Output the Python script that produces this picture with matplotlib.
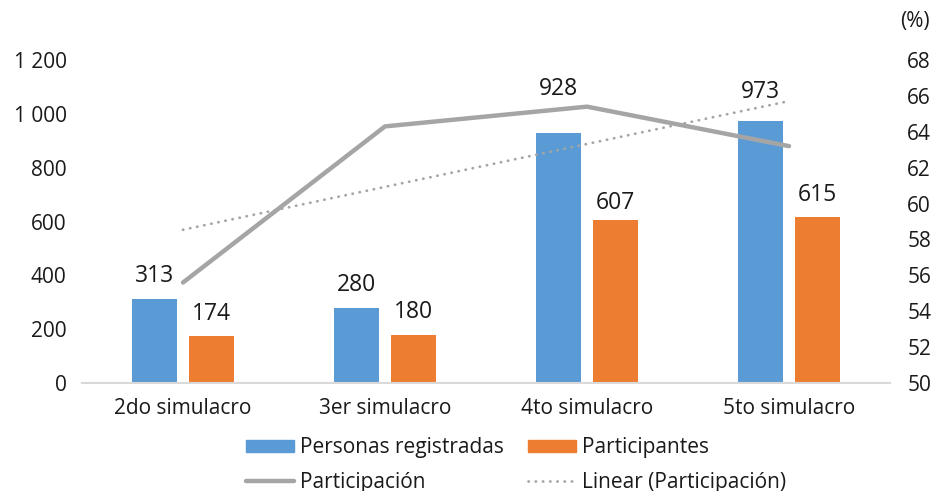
import matplotlib
matplotlib.use("Agg")
import matplotlib.pyplot as plt
import numpy as np
from matplotlib.lines import Line2D
from matplotlib.patches import Patch

plt.rcParams['font.family'] = ['Open Sans', 'DejaVu Sans']

categories = ["2do simulacro", "3er simulacro", "4to simulacro", "5to simulacro"]
registradas = [313, 280, 928, 973]
participantes = [174, 180, 607, 615]
participacion = [55.6, 64.3, 65.4, 63.2]
left_ticks = [0, 200, 400, 600, 800, 1000, 1200]
left_labels = ["0", "200", "400", "600", "800", "1 000", "1 200"]
right_ticks = [50, 52, 54, 56, 58, 60, 62, 64, 66, 68]

# label offsets above bar tops (points) - layout only
reg_label_off = [7.5, 7.5, 23, 12.5]
par_label_off = [7.5, 7.5, 3.5, 7.5]

blue = "#5B9BD5"
orange = "#ED7D31"
gray = "#A5A5A5"
txt = "#1a1a1a"
fs = 15
dotted = (0, (0.1, 2.5))

fig = plt.figure(figsize=(9.42, 4.91), dpi=100)
ax = fig.add_axes([82/942, 1-383/491, 808/942, 323/491])
ax2 = ax.twinx()

x = np.arange(len(categories))
w = 0.223
off = 0.141
ax.bar(x - off, registradas, w, color=blue, zorder=2)
ax.bar(x + off, participantes, w, color=orange, zorder=2)
for xi, v, o in zip(x, registradas, reg_label_off):
    ax.annotate(f"{v}", (xi - off, v), xytext=(0, o), textcoords="offset points",
                ha="center", va="bottom", fontsize=16.5, color=txt)
for xi, v, o in zip(x, participantes, par_label_off):
    ax.annotate(f"{v}", (xi + off, v), xytext=(0, o), textcoords="offset points",
                ha="center", va="bottom", fontsize=16.5, color=txt)

ax.set_xlim(-0.5, 3.5)
ax.set_ylim(0, 1200)
ax.set_yticks(left_ticks)
ax.set_yticklabels(left_labels)
ax.set_xticks(x)
ax.set_xticklabels(categories)
for s in ["top", "right", "left"]:
    ax.spines[s].set_visible(False)
ax.spines["bottom"].set_color("#D9D9D9")
ax.spines["bottom"].set_linewidth(1.5)
ax.tick_params(axis="both", length=0, labelsize=fs, colors=txt)
ax.tick_params(axis="y", pad=11)
ax.tick_params(axis="x", pad=11)

ax2.plot(x, participacion, color=gray, lw=3.2, solid_capstyle="round", zorder=3)
coef = np.polyfit(x, participacion, 1)
ax2.plot(x, np.polyval(coef, x), color=gray, lw=2.0, ls=dotted,
         dash_capstyle="round", zorder=3)
ax2.set_ylim(50, 68)
ax2.set_yticks(right_ticks)
for s in ["top", "right", "left", "bottom"]:
    ax2.spines[s].set_visible(False)
ax2.tick_params(axis="y", length=0, labelsize=fs, colors=txt, pad=12.5)

fig.text(915/942, 1-22/491, "(%)", ha="center", va="center", fontsize=fs, color=txt)

handles = [Patch(color=blue), Patch(color=orange),
           Line2D([], [], color=gray, lw=3.2, solid_capstyle="round"),
           Line2D([], [], color=gray, lw=2.0, ls=dotted, dash_capstyle="round")]
labels = ["Personas registradas", "Participantes", "Participación", "Linear (Participación)"]
order = [0, 2, 1, 3]
fig.legend([handles[i] for i in order], [labels[i] for i in order], ncol=2,
           loc="center", bbox_to_anchor=(516/942, 1-465/491), frameon=False,
           fontsize=fs, handlelength=2.3, handleheight=0.55, columnspacing=1.15,
           labelspacing=0.65, handletextpad=0.3, labelcolor=txt, borderpad=0)

fig.savefig("out.png", dpi=100)
